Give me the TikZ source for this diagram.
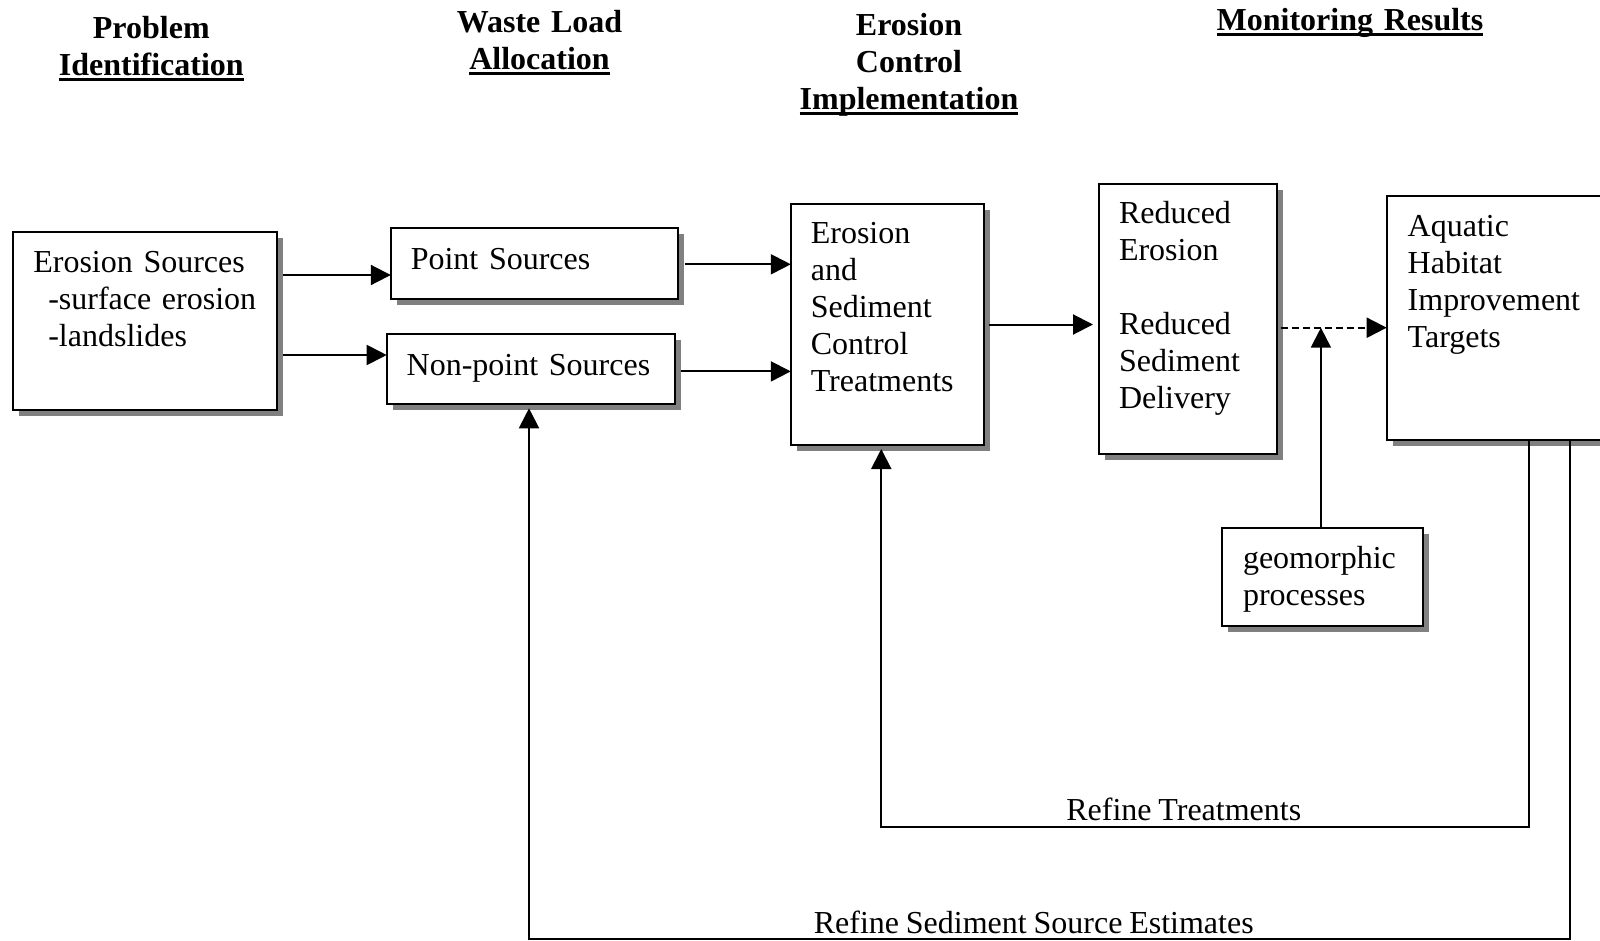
\documentclass[tikz,border=0pt]{standalone}
\usepackage{fontspec}
\setmainfont{Liberation Serif}[WordSpace=0.85]
\usetikzlibrary{arrows.meta,shadows}
\definecolor{shadowgray}{gray}{0.5}
\newcommand{\hdul}[1]{\leavevmode\setbox0=\hbox{#1}\rlap{\rule[-6pt]{\wd0}{3.3pt}}\box0}

\tikzset{
  blk/.style={draw, line width=2pt, fill=white, anchor=north west, align=left,
    inner ysep=0pt, outer sep=0pt, font=\fontsize{32}{37}\selectfont,
    drop shadow={shadow xshift=6pt, shadow yshift=-6pt, fill=shadowgray, opacity=1}},
  hdr/.style={anchor=base, text width=420pt, align=center, inner sep=0pt,
    font=\fontsize{32}{37}\selectfont\bfseries},
  arr/.style={line width=2pt, -{Triangle[length=20pt,width=20pt]}},
  lbl/.style={inner sep=0pt, font=\fontsize{32}{37}\selectfont}
}

\begin{document}
\begin{tikzpicture}[x=1pt,y=-1pt]
\useasboundingbox (0,0) rectangle (1600,940);
% headings
\node[hdr] (hprob) at (151.3,38) {Problem\\\hdul{Identification}};
\node[hdr] (hwla) at (539.5,32.4) {Waste Load\\\hdul{Allocation}};
\node[hdr] (heci) at (909,35) {Erosion\\Control\\\hdul{Implementation}};
\node[hdr] (hmon) at (1350,30.4) {\hdul{Monitoring Results}};
% boxes
\node[blk, text width=223.4pt, inner xsep=20pt, text height=40.3pt, text depth=138pt] (src) at (13.3,231.7)
  {Erosion Sources\\\hspace*{15pt}-surface erosion\\\hspace*{15pt}-landslides};
\node[blk, text width=246.8pt, inner xsep=20pt, text height=41.4pt, text depth=30pt] (ps) at (390.8,227.6) {Point Sources};
\node[blk, text width=247.8pt, inner xsep=20pt, text height=41.3pt, text depth=29.3pt] (nps) at (386.7,333.7) {Non-point Sources};
\node[blk, text width=152.9pt, inner xsep=20pt, text height=39pt, text depth=201.9pt] (ct) at (790.8,204.1)
  {Erosion\\and\\Sediment\\Control\\Treatments};
\node[blk, text width=137.5pt, inner xsep=20pt, text height=39.3pt, text depth=231.1pt] (red) at (1099,183.7)
  {Reduced\\Erosion\\[37pt]Reduced\\Sediment\\Delivery};
\node[blk, text width=198pt, inner xsep=21pt, text height=40.6pt, text depth=203.5pt] (aq) at (1386.7,195.9)
  {Aquatic\\Habitat\\Improvement\\Targets};
\node[blk, text width=159.8pt, inner xsep=20.6pt, text height=40.4pt, text depth=57.6pt] (geo) at (1222.4,527.6)
  {geomorphic\\processes};
% forward arrows
\coordinate (a1) at ([shift={(6,43.3)}]src.north east);
\coordinate (a2) at ([shift={(6,123.3)}]src.north east);
\coordinate (a3) at ([shift={(7,36.7)}]ps.north east);
\coordinate (a4) at ([shift={(6,37.7)}]nps.north east);
\coordinate (a5) at ([shift={(5,120.4)}]ct.north east);
\coordinate (b5) at ([shift={(-6,0)}]red.west);
\coordinate (a6) at ([shift={(4,144)}]red.north east);
\coordinate (g1) at ([shift={(-2,0)}]geo.north);
\draw[arr] (a1) -- (a1 -| ps.west);
\draw[arr] (a2) -- (a2 -| nps.west);
\draw[arr] (a3) -- (a3 -| ct.west);
\draw[arr] (a4) -- (a4 -| ct.west);
\draw[arr] (a5) -- (a5 -| b5);
\draw[arr, dash pattern=on 7pt off 4pt] (a6) -- (a6 -| aq.west);
\draw[arr] (g1) -- (g1 |- a6);
% feedback loops
\coordinate (r1) at ([shift={(142.3,0)}]aq.south west);
\coordinate (r2) at ([shift={(0,386.5)}]r1);
\coordinate (r3) at ([shift={(-6,4)}]ct.south);
\draw[arr] (r1) -- (r2) -| node[lbl, pos=0.2665, above=5pt] (ltr) {Refine Treatments} (r3);
\coordinate (r4) at ([shift={(183,0)}]aq.south west);
\coordinate (r5) at ([shift={(0,498.5)}]r4);
\coordinate (r6) at ([shift={(-1.6,4)}]nps.south);
\draw[arr] (r4) -- (r5) -| node[lbl, pos=0.2575, above=4pt] (lrs) {Refine Sediment Source Estimates} (r6);
\end{tikzpicture}
\end{document}
